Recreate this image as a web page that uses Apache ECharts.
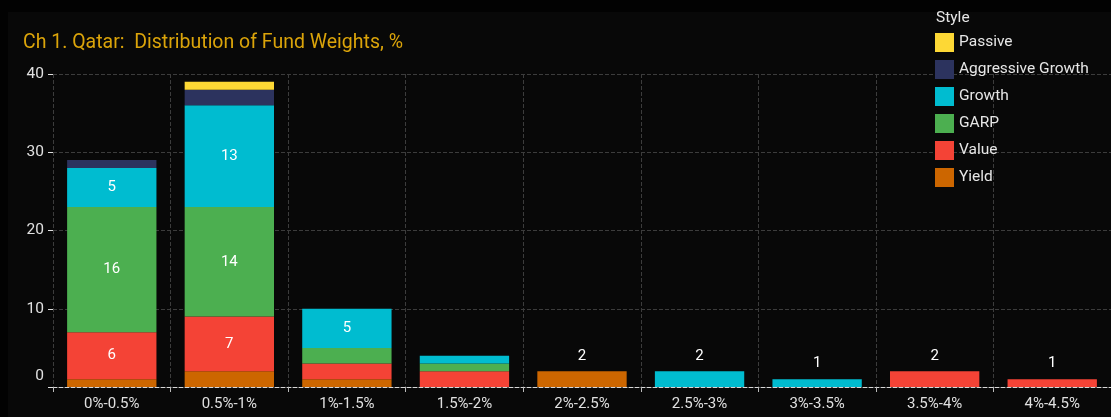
<!DOCTYPE html>
<html>
<head>
<meta charset="utf-8">
<script src="https://cdn.jsdelivr.net/npm/echarts@6/dist/echarts.min.js"></script>
<style>
  html, body { margin: 0; padding: 0; background: #000; }
  #chart1 { width: 1111px; height: 417px; }
</style>
</head>
<body>
<div id="chart1"></div>
<script>
// categories and stacked values (count of funds per weight bucket)
var categories = ['0%-0.5%', '0.5%-1%', '1%-1.5%', '1.5%-2%', '2%-2.5%', '2.5%-3%', '3%-3.5%', '3.5%-4%', '4%-4.5%'];
var yieldData     = [1, 2, 1, 0, 2, 0, 0, 0, 0];
var valueData     = [6, 7, 2, 2, 0, 0, 0, 2, 1];
var garpData      = [16, 14, 2, 1, 0, 0, 0, 0, 0];
var growthData    = [5, 13, 5, 1, 0, 2, 1, 0, 0];
var aggGrowthData = [1, 2, 0, 0, 0, 0, 0, 0, 0];
var passiveData   = [0, 1, 0, 0, 0, 0, 0, 0, 0];
var yTicks = [0, 10, 20, 30, 40];

var seriesDefs = [
    { name: 'Yield', data: yieldData, color: '#cc6600' },
    { name: 'Value', data: valueData, color: '#f44336' },
    { name: 'GARP', data: garpData, color: '#4caf50' },
    { name: 'Growth', data: growthData, color: '#00bcd0' },
    { name: 'Aggressive Growth', data: aggGrowthData, color: '#2c335e' },
    { name: 'Passive', data: passiveData, color: '#fdd835' }
];

// how many series have a value in each category
var nonZero = categories.map(function (c, i) {
    return seriesDefs.filter(function (s) { return s.data[i] > 0; }).length;
});

var font = 'Roboto';

var dom = document.getElementById("chart1");
var myChart = echarts.init(dom);

var series = seriesDefs.map(function (s) {
    return {
        name: s.name,
        type: 'bar',
        stack: 'all',
        barCategoryGap: '24%',
        itemStyle: { color: s.color },
        data: s.data.map(function (v, i) {
            var item = { value: v };
            if (v >= 5) {
                item.label = { show: true, position: 'inside' };
            } else if (v > 0 && nonZero[i] === 1) {
                item.label = { show: true, position: 'top', distance: 8 };
            }
            return item;
        }),
        label: {
            show: false,
            color: '#ffffff',
            fontFamily: font,
            fontSize: 15
        }
    };
});

option = {
    backgroundColor: '#020202',
    animation: false,
    graphic: [
        {
            type: 'rect',
            z: -10,
            silent: true,
            shape: { x: 8, y: 12, width: 1103, height: 405 },
            style: { fill: '#080808' }
        }
    ],
    title: [
        {
            text: 'Ch 1. Qatar:  Distribution of Fund Weights, %',
            left: 18,
            top: 28,
            textStyle: { color: '#dba40a', fontFamily: font, fontSize: 19.5, fontWeight: 'normal' }
        },
        {
            text: 'Style',
            left: 931,
            top: 5,
            textStyle: { color: '#e6e6e6', fontFamily: font, fontSize: 15.5, fontWeight: 'normal' }
        }
    ],
    legend: {
        orient: 'vertical',
        left: 930,
        top: 28,
        itemWidth: 19,
        itemHeight: 19,
        itemGap: 8,
        icon: 'rect',
        data: ['Passive', 'Aggressive Growth', 'Growth', 'GARP', 'Value', 'Yield'],
        textStyle: { color: '#e6e6e6', fontFamily: font, fontSize: 15.5 }
    },
    grid: {
        left: 53,
        right: 0,
        top: 74,
        bottom: 30
    },
    xAxis: {
        type: 'category',
        data: categories,
        axisLine: { lineStyle: { color: '#d8d8d8', type: 'dashed', width: 1 } },
        axisTick: { show: true, length: 5, lineStyle: { color: '#bbbbbb' } },
        axisLabel: { color: '#e0e0e0', fontFamily: font, fontSize: 15, margin: 10 },
        splitLine: { show: true, lineStyle: { color: '#3c3c3c', type: 'dashed' } }
    },
    yAxis: {
        type: 'value',
        min: yTicks[0],
        max: yTicks[yTicks.length - 1],
        interval: 10,
        axisLine: { show: false },
        axisTick: { show: true, length: 5, lineStyle: { color: '#e0e0e0' } },
        axisLabel: {
            color: '#e0e0e0',
            fontFamily: font,
            fontSize: 15.5,
            margin: 9,
            formatter: function (v) { return v === 0 ? '{z|0}' : String(v); },
            rich: { z: { color: '#e0e0e0', fontFamily: font, fontSize: 15.5, padding: [0, 0, 22, 0] } }
        },
        splitLine: { show: true, lineStyle: { color: '#3c3c3c', type: 'dashed' } }
    },
    series: series
};

myChart.setOption(option);
</script>
</body>
</html>
